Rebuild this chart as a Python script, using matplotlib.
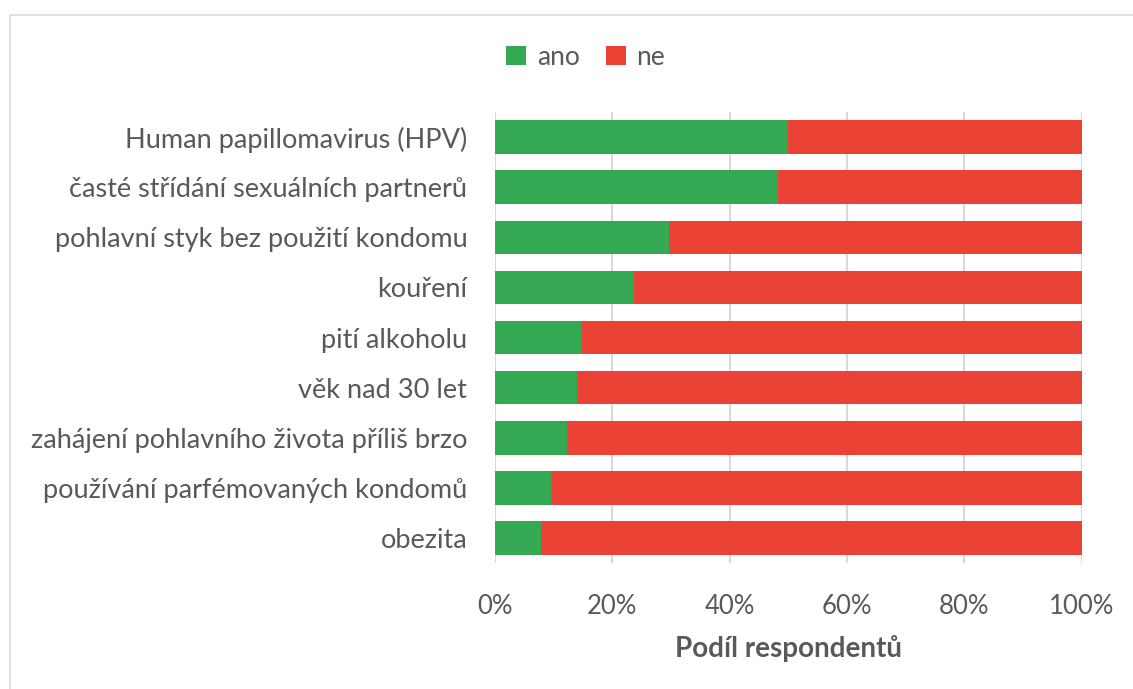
import matplotlib.pyplot as plt
from matplotlib.patches import Rectangle
from matplotlib.ticker import PercentFormatter

# data (share of "ano" in %)
categories = [
    "Human papillomavirus (HPV)",
    "časté střídání sexuálních partnerů",
    "pohlavní styk bez použití kondomu",
    "kouření",
    "pití alkoholu",
    "věk nad 30 let",
    "zahájení pohlavního života příliš brzo",
    "používání parfémovaných kondomů",
    "obezita",
]
ano = [50.0, 48.2, 29.7, 23.6, 14.8, 14.0, 12.2, 9.5, 7.8]
ne = [100 - a for a in ano]

green = "#34A853"
red = "#EA4335"
text_col = "#595959"
grid_col = "#D9D9D9"

plt.rcParams['font.family'] = ['Lato', 'DejaVu Sans']

fig = plt.figure(figsize=(11.33, 6.89), dpi=100)
ax = fig.add_axes([0.437, 0.1829, 0.5177, 0.6545])

y = list(range(len(categories)))
ax.barh(y, ano, height=0.67, color=green, label="ano", zorder=3)
ax.barh(y, ne, left=ano, height=0.67, color=red, label="ne", zorder=3)

ax.set_xlim(0, 100)
ax.set_ylim(len(categories) - 0.5, -0.5)
ax.set_yticks(y)
ax.set_yticklabels(categories, fontsize=19.5)
ax.set_xticks([0, 20, 40, 60, 80, 100])
ax.xaxis.set_major_formatter(PercentFormatter(decimals=0))
ax.tick_params(axis='both', length=0, colors=text_col)
ax.tick_params(axis='x', pad=22, labelsize=18.5)
ax.tick_params(axis='y', pad=20)
ax.grid(axis='x', color=grid_col, linewidth=1.5, zorder=0)
for s in ax.spines.values():
    s.set_visible(False)

ax.set_xlabel("Podíl respondentů", fontsize=20, fontweight='bold', color=text_col, labelpad=12)

leg = fig.legend(loc='center', bbox_to_anchor=(0.517, 0.917), ncol=2, frameon=False,
                 fontsize=19, handlelength=0.75, handleheight=0.75, handletextpad=0.4,
                 columnspacing=1.0)
for t in leg.get_texts():
    t.set_color(text_col)

# chart border
fig.patches.append(Rectangle((10 / 1133, -0.05), 1.2, 1 - 15 / 689 + 0.05,
                             transform=fig.transFigure, fill=False,
                             edgecolor=grid_col, linewidth=1.2))

fig.savefig("out.png", dpi=100)
